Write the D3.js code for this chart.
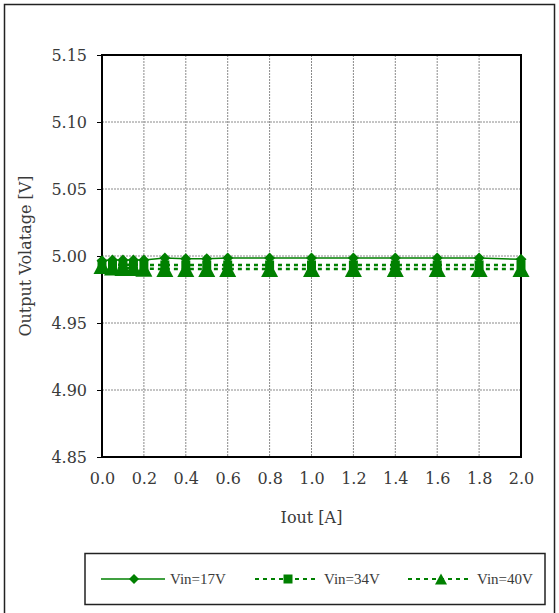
<!DOCTYPE html>
<html><head><meta charset="utf-8">
<script src="https://cdn.jsdelivr.net/npm/d3@7"></script>
<style>body{margin:0;background:#fff}svg{display:block}</style>
</head><body><svg id="c" width="559" height="613"></svg>
<script>
const iout = [0, 0.05, 0.1, 0.15, 0.2, 0.3, 0.4, 0.5, 0.6, 0.8, 1.0, 1.2, 1.4, 1.6, 1.8, 2.0];
const vin17 = [4.9965, 4.997, 4.997, 4.997, 4.997, 4.9985, 4.998, 4.998, 4.9985, 4.9985, 4.9985, 4.9985, 4.9985, 4.9985, 4.9985, 4.9975];
const vin34 = [4.994, 4.9935, 4.9935, 4.9935, 4.9933, 4.9933, 4.9933, 4.9933, 4.9933, 4.9933, 4.9933, 4.9933, 4.9933, 4.9933, 4.9933, 4.9933];
const vin40 = [4.9925, 4.9915, 4.991, 4.991, 4.9905, 4.9903, 4.9903, 4.9903, 4.9903, 4.9903, 4.9903, 4.9903, 4.9903, 4.9903, 4.9903, 4.9903];
const xTicks = [0, 0.2, 0.4, 0.6, 0.8, 1.0, 1.2, 1.4, 1.6, 1.8, 2.0];
const yTicks = [4.85, 4.90, 4.95, 5.00, 5.05, 5.10, 5.15];
const seriesNames = ["Vin=17V", "Vin=34V", "Vin=40V"];

const FONT = "'DejaVu Serif', serif";
const FONT2 = "'Liberation Serif', 'DejaVu Serif', serif";
const TXT = "#3a3a3a";
const svg = d3.select("#c");
const green = "#008000";
svg.append("rect").attr("x",4.5).attr("y",4.5).attr("width",550).attr("height",615).attr("fill","#fff").attr("stroke","#222").attr("stroke-width",1.5);

const L=102, R=521, T=55, B=457;
const x = d3.scaleLinear().domain([0,2]).range([L,R]);
const y = d3.scaleLinear().domain([4.85,5.15]).range([B,T]);

const g = svg.append("g");
g.selectAll(".gx").data(xTicks.slice(1)).enter().append("line")
 .attr("x1",d=>x(d)).attr("x2",d=>x(d)).attr("y1",T).attr("y2",B).attr("stroke","#8a8a8a").attr("stroke-width",1).attr("stroke-dasharray","2,1");
g.selectAll(".gy").data(yTicks.slice(1)).enter().append("line")
 .attr("x1",L).attr("x2",R).attr("y1",d=>y(d)).attr("y2",d=>y(d)).attr("stroke","#8a8a8a").attr("stroke-width",1).attr("stroke-dasharray","2,1");

const ya = svg.append("g").attr("transform",`translate(${L},0)`).call(d3.axisLeft(y).tickValues(yTicks).tickFormat(d3.format(".2f")).tickSize(5).tickPadding(10));
ya.attr("font-family",FONT);
ya.select(".domain").remove();
ya.selectAll("line").attr("stroke","#000");
ya.selectAll("text").attr("font-size","16px").attr("fill",TXT).attr("dy","0.35em");
const xa = svg.append("g").attr("transform",`translate(0,${B})`).call(d3.axisBottom(x).tickValues(xTicks).tickFormat(d3.format(".1f")).tickSize(0).tickPadding(16));
xa.attr("font-family",FONT);
xa.select(".domain").remove();
xa.selectAll("text").attr("font-size","16px").attr("fill",TXT);

svg.append("rect").attr("x",L).attr("y",T).attr("width",R-L).attr("height",B-T).attr("fill","none").attr("stroke","#000").attr("stroke-width",2);

svg.append("text").attr("x",x(1)).attr("y",523).attr("text-anchor","middle").attr("font-family",FONT).attr("font-size","16px").attr("fill",TXT).text("Iout [A]");
svg.append("text").attr("transform",`translate(31,${(T+B)/2}) rotate(-90)`).attr("text-anchor","middle").attr("font-family",FONT).attr("font-size","16px").attr("fill",TXT).text("Output Volatage [V]");

const line = d3.line().x((d,i)=>x(iout[i])).y(d=>y(d));
const triPath = (w,h)=>`M0,${-h/2}L${w/2},${h/2}L${-w/2},${h/2}Z`;
const diaPath = (w,h)=>`M0,${-h/2}L${w/2},0L0,${h/2}L${-w/2},0Z`;
const sqPath = s=>`M${-s/2},${-s/2}h${s}v${s}h${-s}Z`;

const plot = svg.append("g");
plot.append("path").datum(vin17).attr("d",line).attr("fill","none").attr("stroke",green).attr("stroke-width",1.5);
plot.append("path").datum(vin34).attr("d",line).attr("fill","none").attr("stroke",green).attr("stroke-width",2.5).attr("stroke-dasharray","4,4");
plot.append("path").datum(vin40).attr("d",line).attr("fill","none").attr("stroke",green).attr("stroke-width",2.5).attr("stroke-dasharray","4,4");
plot.selectAll(".m34").data(vin34).enter().append("path").attr("d",sqPath(9)).attr("fill",green)
 .attr("transform",(d,i)=>`translate(${x(iout[i])},${y(d)})`);
plot.selectAll(".m17").data(vin17).enter().append("path").attr("d",diaPath(11,11)).attr("fill",green)
 .attr("transform",(d,i)=>`translate(${x(iout[i])},${y(d)})`);
plot.selectAll(".m40").data(vin40).enter().append("path").attr("d",triPath(17,16)).attr("fill",green)
 .attr("transform",(d,i)=>`translate(${x(iout[i])},${y(d)})`);

const lg = svg.append("g");
lg.append("rect").attr("x",85).attr("y",553.5).attr("width",460).attr("height",51).attr("fill","#fff").attr("stroke","#222").attr("stroke-width",1.5);
const ly = 579;
const items = [{x0:101, dash:null, tx:170, d:diaPath(10,10)},{x0:255, dash:"4,4", tx:324, d:sqPath(9)},{x0:408, dash:"4,4", tx:477, d:triPath(12,11)}];
items.forEach((it,i)=>{
  lg.append("line").attr("x1",it.x0).attr("x2",it.x0+64).attr("y1",ly).attr("y2",ly).attr("stroke",green).attr("stroke-width",it.dash?2:1.5).attr("stroke-dasharray",it.dash);
  lg.append("path").attr("d",it.d).attr("fill",green).attr("transform",`translate(${it.x0+33},${ly})`);
  lg.append("text").attr("x",it.tx).attr("y",ly+5).attr("font-family",FONT2).attr("font-size","15px").attr("fill",TXT).text(seriesNames[i]);
});
</script></body></html>
